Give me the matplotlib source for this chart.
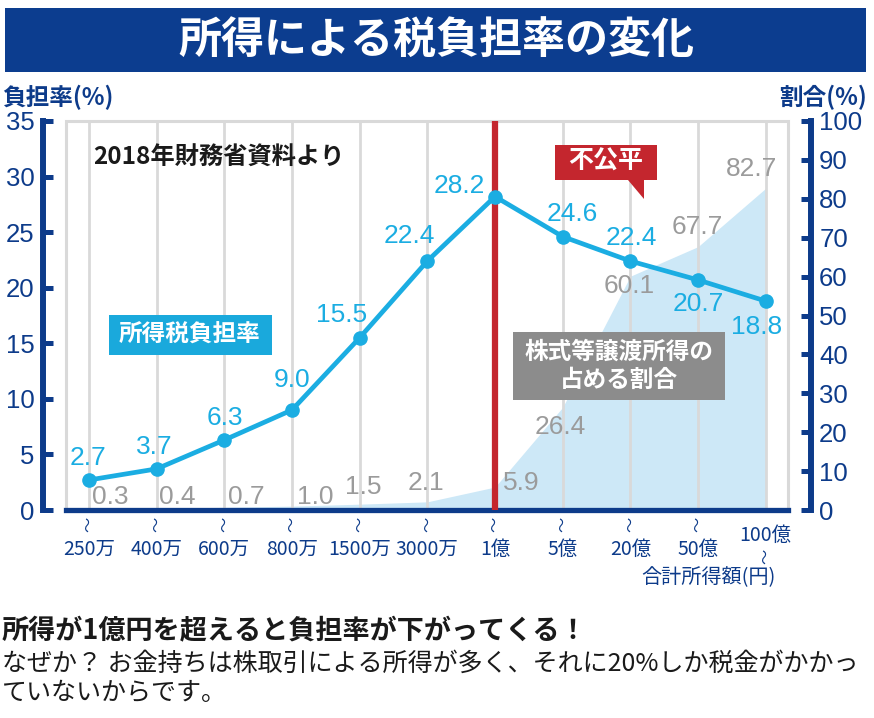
import matplotlib
matplotlib.use("Agg")
import matplotlib.pyplot as plt
from matplotlib.patches import Rectangle, Polygon
from matplotlib.transforms import blended_transform_factory

plt.rcParams['font.family'] = ['Noto Sans CJK JP', 'DejaVu Sans']

# 2018年 財務省資料
incomes = ['250万', '400万', '600万', '800万', '1500万', '3000万', '1億', '5億', '20億', '50億', '100億']
tax_rate = [2.7, 3.7, 6.3, 9.0, 15.5, 22.4, 28.2, 24.6, 22.4, 20.7, 18.8]
stock_share = [0.3, 0.4, 0.7, 1.0, 1.5, 2.1, 5.9, 26.4, 60.1, 67.7, 82.7]

# label offsets from each point, in pixels (right, up)
tax_offsets = [(-1, 22), (-2, 22), (1, 22), (0, 30), (-18, 23), (-18, 25),
               (-36, 11), (10, 23), (1, 23), (0, -24), (-9, -26)]
share_offsets = [(21, 12), (21, 11), (22, 10), (23, 9), (4, 17), (-1, 19),
                 (26, 4), (-2, -20), (-1, -10), (-1, 20), (-14, 19)]

navy = '#0d3b8a'
cyan = '#1badE2'
red = '#c4262e'
gray_txt = '#9b9b9b'
fill_blue = '#cde8f7'
num_font = 'Liberation Sans'

W, H = 874, 718
def fx(px):
    return px / W
def fy(py):
    return 1 - py / H

fig = plt.figure(figsize=(W / 100, H / 100), dpi=100)

# title banner
fig.add_artist(Rectangle((fx(5), fy(72)), fx(866) - fx(5), fy(8) - fy(72),
                         transform=fig.transFigure, color='#0c3d8f', lw=0))
fig.text(fx(436), fy(40), '所得による税負担率の変化', color='white', fontsize=31,
         weight='bold', ha='center', va='center')

# share axis (base) and tax axis (twin on top)
ax_s = fig.add_axes([fx(66), fy(510), fx(788) - fx(66), fy(121) - fy(510)])
x = list(range(len(incomes)))
ax_s.fill_between(x, stock_share, color=fill_blue, lw=0)
ax_s.set_xlim(-0.34, 10.33)
ax_s.set_ylim(0, 100)
ax_s.set_xticks(x)
ax_s.tick_params(axis='x', length=0, labelbottom=False)
ax_s.grid(axis='x', color='#d9d9d9', lw=2)
ax_s.set_axisbelow('line')
ax_s.axvline(incomes.index('1億'), color=red, lw=4.5, zorder=3)
ax_s.add_patch(Rectangle((0, 0), 1, 1, transform=ax_s.transAxes, fill=False,
                         ec='#d9d9d9', lw=2.2, clip_on=False, zorder=0.8))

ax_t = ax_s.twinx()
ax_t.plot(x, tax_rate, color=cyan, lw=3.4, marker='o', ms=9.5, zorder=4)
ax_t.set_ylim(0, 35)

ax_s.yaxis.tick_right()
ax_t.yaxis.tick_left()
ax_s.set_yticks(range(0, 101, 10))
ax_t.set_yticks(range(0, 36, 5))

for sp in ['left', 'top']:
    ax_s.spines[sp].set_visible(False)
for sp in ['right', 'top', 'bottom']:
    ax_t.spines[sp].set_visible(False)
ax_s.spines['right'].set_position(('outward', 16.5))
ax_t.spines['left'].set_position(('outward', 16.5))
for sp in [ax_s.spines['right'], ax_t.spines['left']]:
    sp.set_color(navy)
    sp.set_linewidth(4.3)
ax_s.spines['bottom'].set_color(navy)
ax_s.spines['bottom'].set_linewidth(3.8)

for a in (ax_s, ax_t):
    a.tick_params(axis='y', direction='in', length=7, width=3.6, color=navy,
                  labelcolor=navy, labelsize=18.5, pad=6)
    for lbl in a.get_yticklabels():
        lbl.set_fontfamily(num_font)

# value labels
for i, (v, (dx, dy)) in enumerate(zip(stock_share, share_offsets)):
    ax_s.annotate(f'{v:.1f}', (i, v), xytext=(dx * 0.72, dy * 0.72),
                  textcoords='offset points', ha='center', va='center',
                  color=gray_txt, fontsize=19, family=num_font, zorder=3.5)
for i, (v, (dx, dy)) in enumerate(zip(tax_rate, tax_offsets)):
    ax_t.annotate(f'{v:.1f}', (i, v), xytext=(dx * 0.72, dy * 0.72),
                  textcoords='offset points', ha='center', va='center',
                  color=cyan, fontsize=19, family=num_font, zorder=5)

# category labels with range marks (vertical wave)
trans = blended_transform_factory(ax_s.transData, fig.transFigure)
for i, name in enumerate(incomes):
    if i == len(incomes) - 1:
        ty, ly = 556, 535
    else:
        ty, ly = 524, 549
    ax_s.text(i, fy(ty), '～', transform=trans, ha='center', va='center',
              rotation=90, fontsize=11, color=navy)
    ax_s.text(i, fy(ly), name, transform=trans, ha='center', va='center',
              fontsize=14, color=navy)

fig.text(fx(776), fy(578), '合計所得額(円)', ha='right', va='center', fontsize=14.5, color=navy)
fig.text(fx(2), fy(97), '負担率(%)', ha='left', va='center', fontsize=17, weight='bold', color=navy)
fig.text(fx(867), fy(97), '割合(%)', ha='right', va='center', fontsize=17, weight='bold', color=navy)

fig.text(fx(93), fy(158), '2018年財務省資料より', ha='left', va='center',
         fontsize=17.5, weight='bold', color='#1a1a1a')

# label boxes
def box(x0, y0, x1, y1, color):
    fig.add_artist(Rectangle((fx(x0), fy(y1)), fx(x1) - fx(x0), fy(y0) - fy(y1),
                             transform=fig.transFigure, color=color, lw=0))

box(109, 315, 272, 355, '#1aa9dc')
fig.text(fx(190), fy(335), '所得税負担率', ha='center', va='center', fontsize=17,
         weight='bold', color='white')

box(513, 332, 725, 400, '#8c8c8c')
fig.text(fx(619), fy(366), '株式等譲渡所得の\n占める割合', ha='center', va='center',
         fontsize=17, weight='bold', color='white', linespacing=1.25)

callout = [(555, 145), (657, 145), (657, 180), (644, 180), (644, 199), (628, 180), (555, 180)]
fig.add_artist(Polygon([(fx(px), fy(py)) for px, py in callout], closed=True,
                       transform=fig.transFigure, color=red, lw=0))
fig.text(fx(606), fy(162), '不公平', ha='center', va='center', fontsize=18,
         weight='bold', color='white')

# footer
fig.text(fx(2), fy(631), '所得が1億円を超えると負担率が下がってくる！', ha='left', va='center',
         fontsize=19.5, weight='bold', color='#1a1a1a')
fig.text(fx(2), fy(664), 'なぜか？ お金持ちは株取引による所得が多く、それに20%しか税金がかかっ',
         ha='left', va='center', fontsize=18, color='#1a1a1a')
fig.text(fx(2), fy(693), 'ていないからです。', ha='left', va='center', fontsize=18, color='#1a1a1a')

fig.savefig('out.png', dpi=100)
